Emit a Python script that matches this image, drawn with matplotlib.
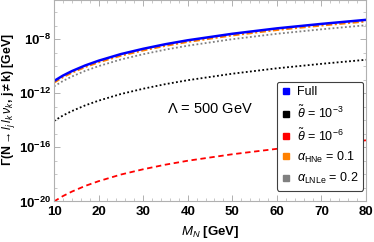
import numpy as np
import matplotlib
matplotlib.use("Agg")
import matplotlib.pyplot as plt
from matplotlib.ticker import FixedLocator, MultipleLocator, NullFormatter
from matplotlib.lines import Line2D

plt.rcParams['font.family'] = ['Liberation Sans', 'DejaVu Sans']
plt.rcParams['mathtext.fontset'] = 'custom'
plt.rcParams['mathtext.rm'] = 'Liberation Sans'
plt.rcParams['mathtext.it'] = 'Liberation Sans:italic'
plt.rcParams['mathtext.bf'] = 'Liberation Sans:bold'

# M_N [GeV] and log10 of the width [GeV]
mass = [10, 12, 14, 17, 20, 25, 30, 35, 40, 50, 60, 70, 80]
log_full = [-11.10, -10.70, -10.37, -9.95, -9.60, -9.11, -8.72, -8.38, -8.09, -7.61, -7.21, -6.88, -6.58]
log_theta3 = [-14.05, -13.65, -13.32, -12.90, -12.55, -12.06, -11.67, -11.33, -11.04, -10.56, -10.16, -9.83, -9.53]
log_theta6 = [-20.00, -19.60, -19.27, -18.85, -18.50, -18.01, -17.62, -17.28, -16.99, -16.51, -16.11, -15.78, -15.48]
log_hne = [-11.22, -10.82, -10.49, -10.07, -9.72, -9.23, -8.84, -8.50, -8.21, -7.73, -7.33, -7.00, -6.70]
log_lnle = [-11.50, -11.10, -10.77, -10.35, -10.00, -9.51, -9.12, -8.78, -8.49, -8.01, -7.61, -7.28, -6.98]

labels = ['Full', r'$\tilde{\theta}$ = 10$^{-3}$', r'$\tilde{\theta}$ = 10$^{-6}$',
          r'$\alpha_{\rm HNe}$ = 0.1', r'$\alpha_{\rm LNLe}$ = 0.2']
colors = ['#0000ff', '#000000', '#ff0000', '#ff8000', '#808080']

fig = plt.figure(figsize=(3.74, 2.42), dpi=100)
ax = fig.add_axes([0.1444, 0.1674, 0.8342, 0.8306])

m = np.array(mass)
ax.plot(m, 10.0 ** np.array(log_lnle), color=colors[4], lw=1.3, ls=(0, (1, 1.3)))
ax.plot(m, 10.0 ** np.array(log_hne), color=colors[3], lw=1.5, ls=(0, (3, 1.2, 1, 1.2)))
ax.plot(m, 10.0 ** np.array(log_full), color=colors[0], lw=1.8)
ax.plot(m, 10.0 ** np.array(log_theta3), color=colors[1], lw=1.3, ls=(0, (1, 1.3)))
ax.plot(m, 10.0 ** np.array(log_theta6), color=colors[2], lw=1.3, ls=(0, (3, 2)))

ax.set_yscale('log')
ax.set_xlim(10, 80)
ax.set_ylim(1e-20, 10 ** -5.15)

ax.xaxis.set_major_locator(MultipleLocator(10))
ax.xaxis.set_minor_locator(MultipleLocator(2))
ax.yaxis.set_major_locator(FixedLocator([1e-20, 1e-16, 1e-12, 1e-8]))
ax.yaxis.set_minor_locator(FixedLocator([10.0 ** k for k in range(-20, -5)]))
ax.yaxis.set_minor_formatter(NullFormatter())
ax.set_yticklabels([r'$\mathbf{10^{-20}}$', r'$\mathbf{10^{-16}}$',
                    r'$\mathbf{10^{-12}}$', r'$\mathbf{10^{-8}}$'])

for s in ax.spines.values():
    s.set_color('#b0b0b0')
    s.set_linewidth(0.8)
ax.tick_params(which='both', direction='in', top=True, right=True, color='#b0b0b0')
ax.tick_params(which='major', length=4, width=0.7, labelsize=9.5, pad=2)
ax.tick_params(axis='x', which='major', pad=3.5)
ax.tick_params(which='minor', length=2, width=0.5)
for t in ax.get_xticklabels():
    t.set_fontweight('bold')

ax.set_xlabel(r'$\mathbf{\mathit{M}_{\mathit{N}}}$ [GeV]', fontsize=9.5, fontweight='bold')
ax.xaxis.set_label_coords(0.5, -0.11, transform=ax.transAxes)
ax.set_ylabel(r'$\mathbf{\Gamma(N \rightarrow \mathit{l_j\,l_k\,\nu_k},\,j \neq k)}$ [GeV]',
              fontsize=8.8, fontweight='bold')
ax.yaxis.set_label_coords(-0.118, 0.505, transform=ax.transAxes)

ax.text(0.5, 0.46, r'$\Lambda$ = 500 GeV', transform=ax.transAxes,
        fontsize=10.5, ha='center', va='center')

handles = [Line2D([], [], ls='none', marker='s', markersize=4.5, color=c) for c in colors]
leg = ax.legend(handles, labels, loc='upper left', bbox_to_anchor=(0.714, 0.595),
                fontsize=9, frameon=True, fancybox=True, framealpha=1,
                edgecolor='#404040', handlelength=0.7, handletextpad=0.6,
                labelspacing=0.5, borderpad=0.35, borderaxespad=0)
leg.get_frame().set_linewidth(0.8)

fig.savefig('out.png', dpi=100)
